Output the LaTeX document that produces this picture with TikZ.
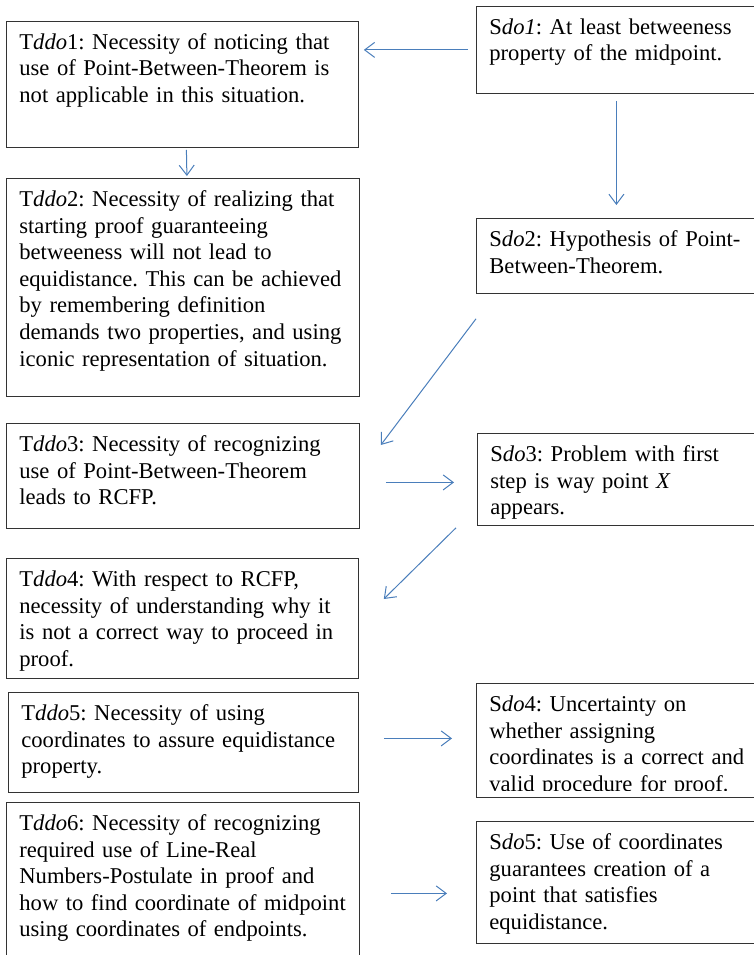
\documentclass[tikz,border=0pt]{standalone}
\usepackage{fontspec}
\setmainfont{Liberation Serif}
\usetikzlibrary{arrows.meta}
\definecolor{linkblue}{RGB}{74,126,187}

\begin{document}
\begin{tikzpicture}[x=1pt, y=-1pt,
    txtbox/.style 2 args={draw=black!80, line width=0.8pt, anchor=north west,
      align=left, inner xsep=13pt, inner ysep=0pt,
      text width=#1pt-26pt, text height=28pt, text depth=#2pt-28pt,
      font=\fontsize{22.6}{26.6}\selectfont,
      execute at begin node={\frenchspacing\hyphenpenalty=10000\relax}},
    link/.style={draw=linkblue, line width=1pt,
      -{Straight Barb[length=10pt,width=15pt]}}]
    \useasboundingbox (0,0) rectangle (753,955);

    % left column
    \node[txtbox={352}{126}] (tddo1) at (6,21)
      {T\textit{ddo}1: Necessity of noticing that\\
       use of Point-Between-Theorem is\\
       not applicable in this situation.};
    \node[txtbox={353}{218}] (tddo2) at (6,178)
      {T\textit{ddo}2: Necessity of realizing that\\
       starting proof guaranteeing\\
       betweeness will not lead to\\
       equidistance. This can be achieved\\
       by remembering definition\\
       demands two properties, and using\\
       iconic representation of situation.};
    \node[txtbox={353}{105}] (tddo3) at (6,423)
      {T\textit{ddo}3: Necessity of recognizing\\
       use of Point-Between-Theorem\\
       leads to RCFP.};
    \node[txtbox={352}{120}] (tddo4) at (6,558)
      {T\textit{ddo}4: With respect to RCFP,\\
       necessity of understanding why it\\
       is not a correct way to proceed in\\
       proof.};
    \node[txtbox={350}{100}] (tddo5) at (8,692)
      {T\textit{ddo}5: Necessity of using\\
       coordinates to assure equidistance\\
       property.};
    \node[txtbox={353}{163}] (tddo6) at (6,802)
      {T\textit{ddo}6: Necessity of recognizing\\
       required use of Line-Real\\
       Numbers-Postulate in proof and\\
       how to find coordinate of midpoint\\
       using coordinates of endpoints.};

    % right column
    \node[txtbox={294}{87}] (sdo1) at (476,6)
      {S\textit{do1}: At least betweeness\\
       property of the midpoint.};
    \node[txtbox={294}{75}] (sdo2) at (476,218)
      {S\textit{do}2: Hypothesis of Point-\\
       Between-Theorem.};
    \node[txtbox={294}{92}] (sdo3) at (477,433)
      {S\textit{do}3: Problem with first\\
       step is way point \textit{X}\\
       appears.};
    \node[txtbox={294}{114}] (sdo4) at (476,683)
      {S\textit{do}4: Uncertainty on\\
       whether assigning\\
       coordinates is a correct and\\
       valid procedure for proof.};
    \fill[white] ([xshift=1pt,yshift=0.5pt]sdo4.south west)
      rectangle ([yshift=7pt]sdo4.south east);
    \node[txtbox={294}{122}] (sdo5) at (476,821)
      {S\textit{do}5: Use of coordinates\\
       guarantees creation of a\\
       point that satisfies\\
       equidistance.};

    % arrows
    \draw[link, shorten <=8pt, shorten >=5pt] (sdo1.west) -- (sdo1.west -| tddo1.east);
    \draw[link] ([xshift=4pt,yshift=-2pt]tddo1.south) -- ([xshift=4pt,yshift=2pt]tddo2.north);
    \draw[link] ([xshift=-7pt,yshift=-7pt]sdo1.south) -- ([xshift=-7pt,yshift=13pt]sdo2.north);
    \draw[link] ([yshift=-25pt]sdo2.south west) -- ([xshift=21pt,yshift=-22pt]tddo3.north east);
    \draw[link] ([xshift=26pt,yshift=-6.5pt]tddo3.east) -- ([xshift=-23pt,yshift=-3pt]sdo3.west);
    \draw[link] ([xshift=-21pt,yshift=-2pt]sdo3.south west) -- ([xshift=25pt,yshift=-41pt]tddo4.north east);
    \draw[link] ([xshift=25pt,yshift=4pt]tddo5.east) -- ([xshift=-24pt,yshift=2pt]sdo4.west);
    \draw[link] ([xshift=31pt,yshift=-9.5pt]tddo6.east) -- ([xshift=-29pt,yshift=-11pt]sdo5.west);
\end{tikzpicture}
\end{document}
